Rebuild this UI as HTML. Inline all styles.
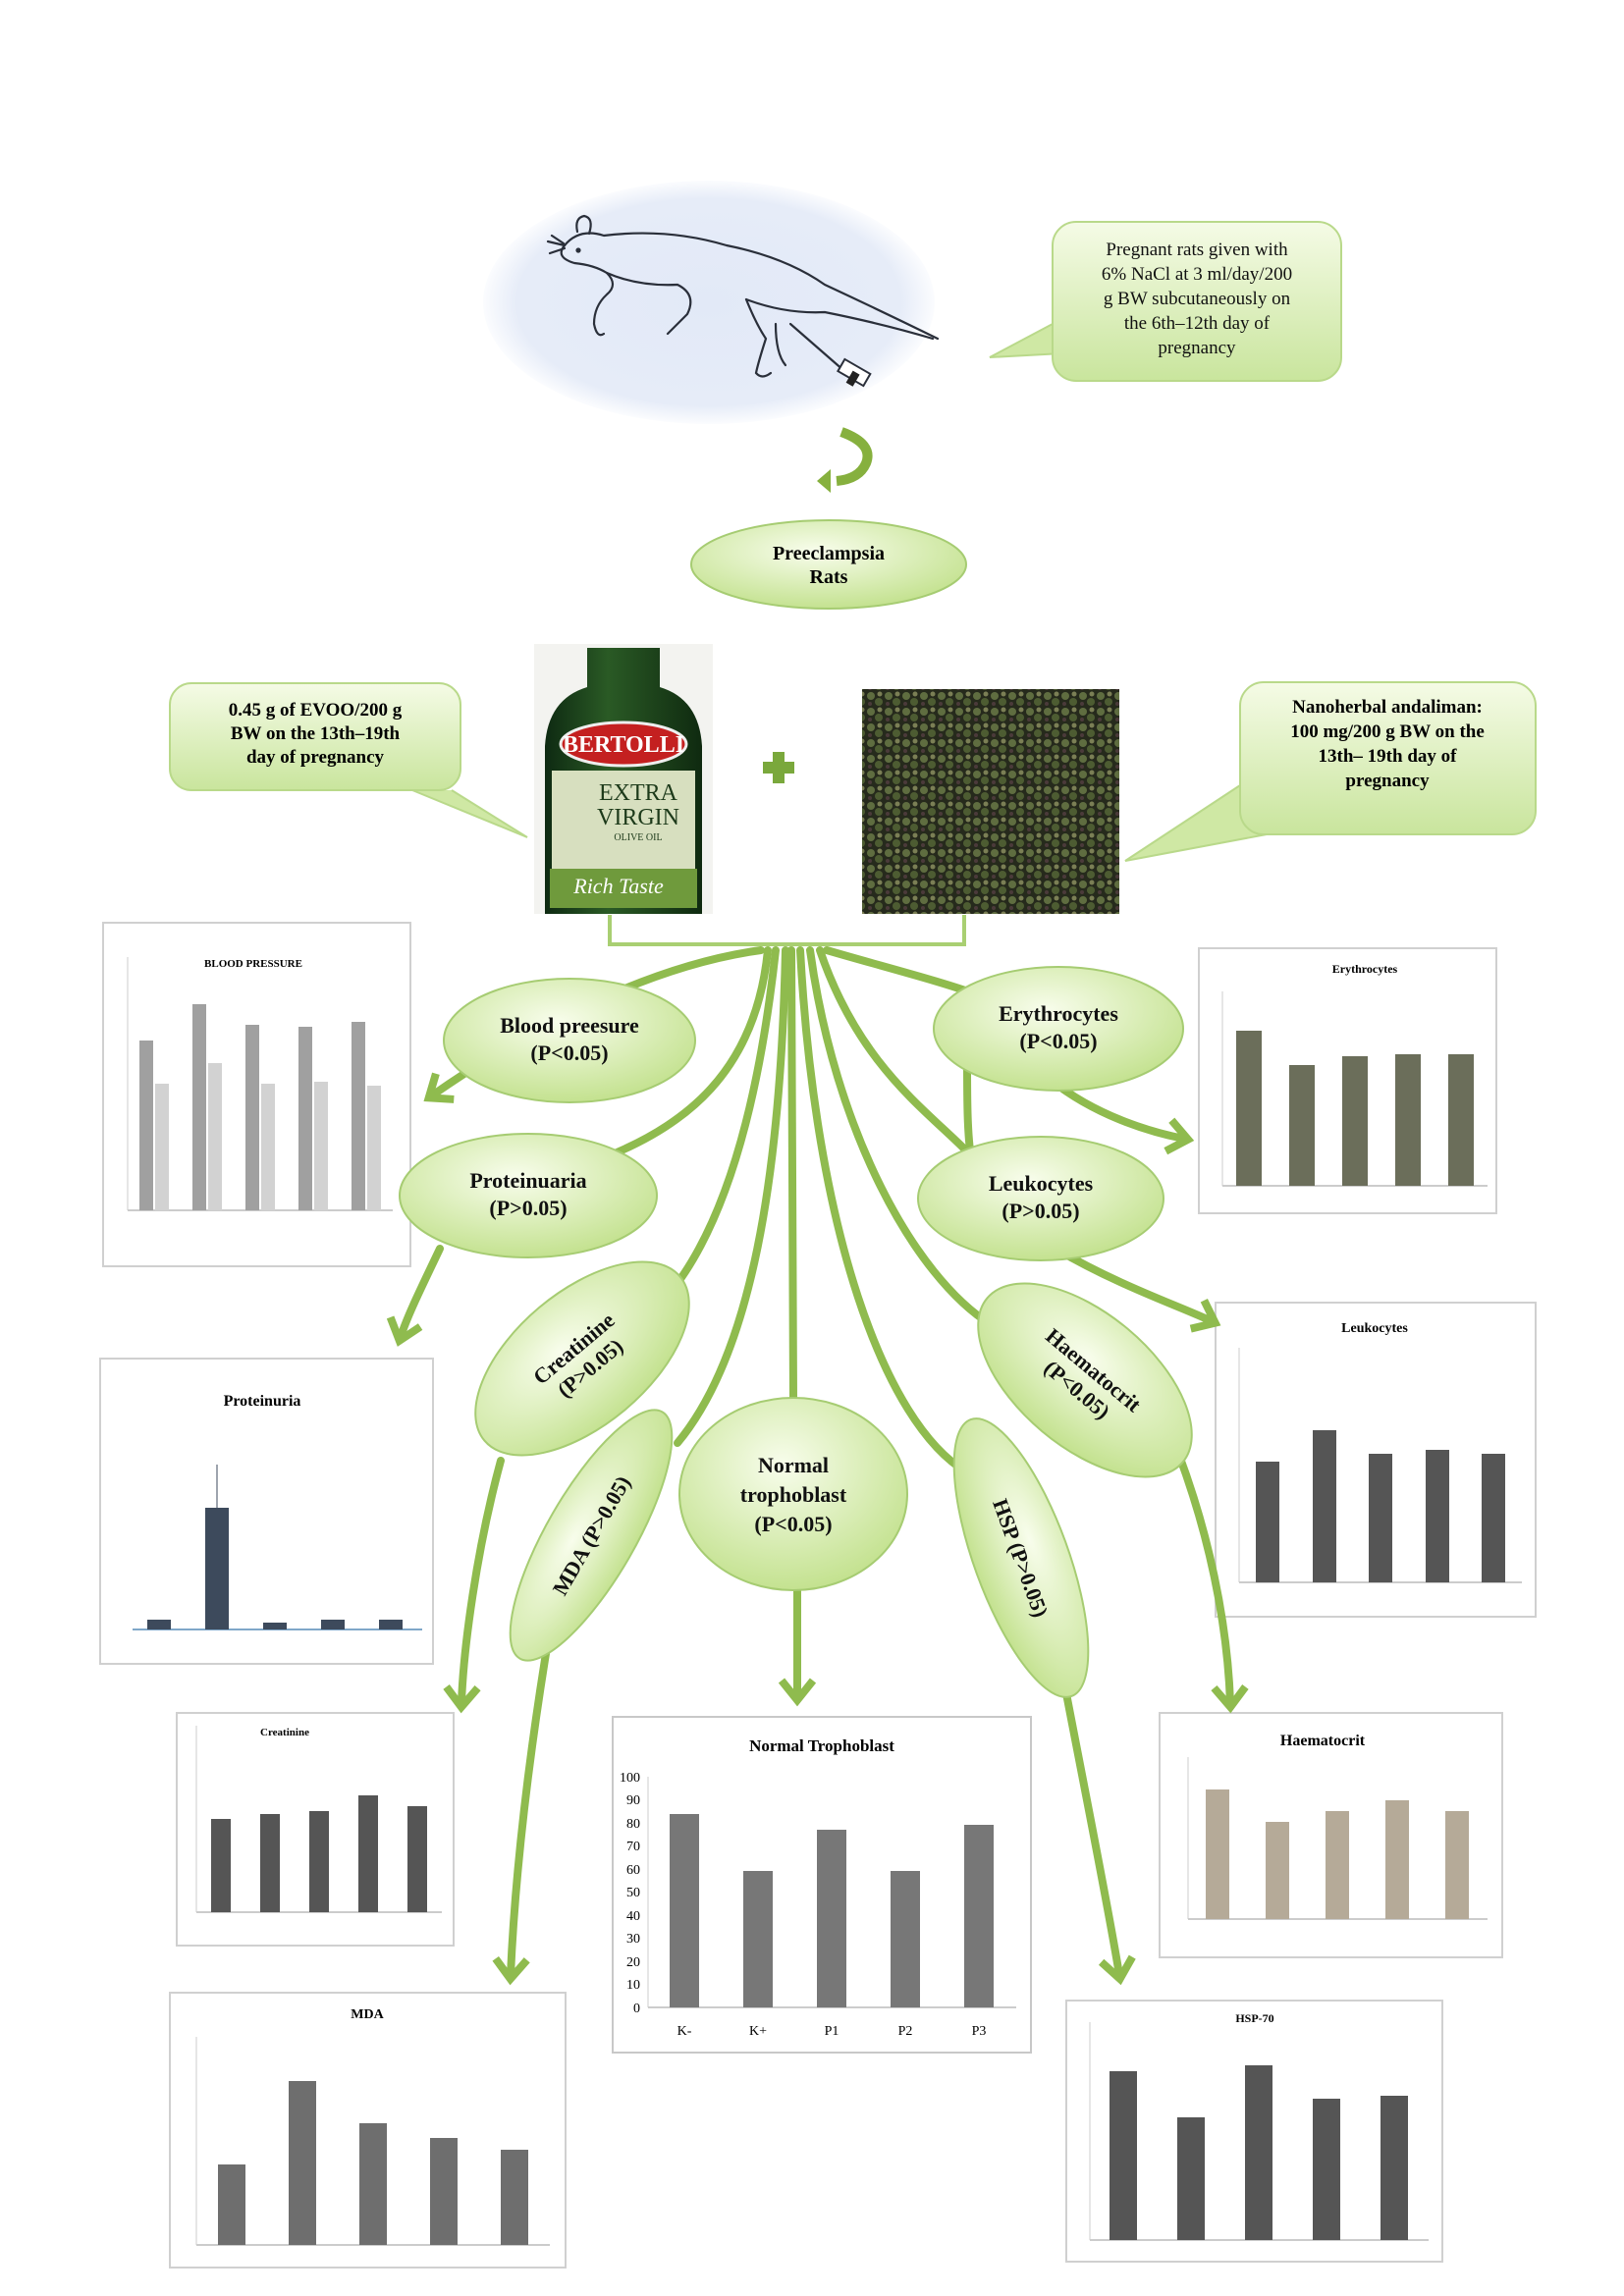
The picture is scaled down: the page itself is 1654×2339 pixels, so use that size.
<!DOCTYPE html>
<html><head><meta charset="utf-8"><style>
html,body{margin:0;padding:0;background:#fff}
svg{display:block}
text{font-family:"Liberation Serif",serif}
</style></head><body>
<svg width="1654" height="2339" viewBox="0 0 1654 2339" xmlns="http://www.w3.org/2000/svg">
<defs>
<radialGradient id="blue" cx="50%" cy="50%" r="50%"><stop offset="0" stop-color="#e2e9f7"/><stop offset="0.85" stop-color="#e6ecf8"/><stop offset="1" stop-color="#fbfcfe"/></radialGradient>
<radialGradient id="gr" cx="45%" cy="35%" r="65%"><stop offset="0" stop-color="#f8fdec"/><stop offset="1" stop-color="#c4e290"/></radialGradient>
<linearGradient id="box" x1="0" y1="0" x2="0" y2="1"><stop offset="0" stop-color="#f5fbe6"/><stop offset="1" stop-color="#c9e59d"/></linearGradient>
<linearGradient id="bottle" x1="0" y1="0" x2="1" y2="0"><stop offset="0" stop-color="#0e2a12"/><stop offset="0.4" stop-color="#2a5a25"/><stop offset="1" stop-color="#0f2a10"/></linearGradient>
<pattern id="herb" width="18" height="16" patternUnits="userSpaceOnUse"><rect width="18" height="16" fill="#262a1c"/><circle cx="5" cy="5" r="4" fill="#5f6d40"/><circle cx="13" cy="11" r="4" fill="#4d5c32"/><circle cx="14" cy="3" r="2.5" fill="#7b7f55"/><circle cx="4" cy="13" r="2" fill="#4b3a3a"/></pattern>
<marker id="ah" viewBox="0 0 20 20" refX="10" refY="10" markerWidth="5" markerHeight="5" orient="auto" markerUnits="strokeWidth"><polyline points="2,2 12,10 2,18" fill="none" stroke="#8fbb4e" stroke-width="4"/></marker>
</defs>

<!-- mouse -->
<ellipse cx="722" cy="308" rx="230" ry="124" fill="url(#blue)"/>
<g fill="none" stroke="#2a2f3a" stroke-width="2.2" stroke-linecap="round">
<path d="M575 250 Q590 232 615 240 Q680 232 740 250 Q800 262 840 290 Q900 318 955 345"/>
<path d="M575 250 Q565 262 585 268 Q605 270 618 278"/>
<path d="M618 278 Q630 290 618 300 Q605 312 605 330 Q608 345 615 340"/>
<path d="M618 278 Q650 292 690 290 Q710 300 700 320 Q690 330 680 340"/>
<path d="M760 305 Q800 320 840 318 Q900 330 950 345"/>
<path d="M760 305 Q770 330 780 345 Q772 370 770 380 Q776 387 785 380"/>
<path d="M790 330 Q790 360 800 372"/>
<path d="M805 330 L860 378"/>
<path d="M588 236 Q585 222 595 220 Q605 222 600 238"/>
<path d="M575 250 L558 246 M575 253 L560 258 M574 248 L562 240"/>
<circle cx="589" cy="255" r="1.5" fill="#2a2f3a"/>
</g>
<rect x="855" y="372" width="30" height="14" transform="rotate(30 869 379)" fill="#fff" stroke="#2a2f3a" stroke-width="2"/>
<rect x="868" y="378" width="8" height="14" transform="rotate(30 869 379)" fill="#222"/>
<!-- top right callout -->
<path d="M1072 330 L1008 364 L1082 360" fill="#cfe8a4" stroke="#b9d98a" stroke-width="2"/>
<rect x="1072" y="226" width="294" height="162" rx="24" fill="url(#box)" stroke="#b9d98a" stroke-width="2"/>
<g font-size="19" text-anchor="middle" fill="#111"><text x="1219" y="260">Pregnant rats given with</text><text x="1219" y="285">6% NaCl at 3 ml/day/200</text><text x="1219" y="310">g BW subcutaneously on</text><text x="1219" y="335">the 6th–12th day of</text><text x="1219" y="360">pregnancy</text></g>
<!-- hook arrow -->
<path d="M857 440 Q890 452 882 472 Q875 488 852 490" fill="none" stroke="#86b03e" stroke-width="10"/>
<polygon points="846,478 846,502 832,490" fill="#86b03e"/>
<!-- preeclampsia -->
<ellipse cx="844" cy="575" rx="140" ry="45" fill="url(#gr)" stroke="#a6cc72" stroke-width="2"/>
<g font-size="20" font-weight="bold" text-anchor="middle"><text x="844" y="570">Preeclampsia</text><text x="844" y="594">Rats</text></g>
<!-- bottle -->
<rect x="544" y="656" width="182" height="275" fill="#f3f3f0"/>
<path d="M598 660 L672 660 L672 700 Q712 712 715 760 L715 931 L555 931 L555 760 Q558 712 598 700Z" fill="url(#bottle)"/>
<ellipse cx="635" cy="758" rx="64" ry="22" fill="#c42020" stroke="#eee" stroke-width="3"/>
<text x="635" y="766" font-size="24" font-weight="bold" fill="#fff" text-anchor="middle">BERTOLLI</text>
<rect x="562" y="785" width="146" height="100" fill="#d7dfbf"/>
<text x="650" y="815" font-size="24" fill="#1d3a1a" text-anchor="middle">EXTRA</text>
<text x="650" y="840" font-size="24" fill="#1d3a1a" text-anchor="middle">VIRGIN</text>
<text x="650" y="856" font-size="10" fill="#1d3a1a" text-anchor="middle">OLIVE OIL</text>
<rect x="560" y="885" width="150" height="40" fill="#6f9a3c"/>
<text x="630" y="910" font-size="22" font-style="italic" fill="#fff" text-anchor="middle">Rich Taste</text>
<!-- plus -->
<path d="M793 766 L793 798 M777 782 L809 782" stroke="#7aa83c" stroke-width="12"/>
<!-- herb -->
<rect x="878" y="702" width="262" height="229" fill="url(#herb)"/>
<!-- left callout -->
<path d="M420 805 L537 853 L460 805" fill="#cfe8a4" stroke="#b9d98a" stroke-width="2"/>
<rect x="173" y="696" width="296" height="109" rx="22" fill="url(#box)" stroke="#b9d98a" stroke-width="2"/>
<g font-size="19" font-weight="bold" text-anchor="middle"><text x="321" y="729">0.45 g of EVOO/200 g</text><text x="321" y="753">BW on the 13th–19th</text><text x="321" y="777">day of pregnancy</text></g>
<!-- right callout -->
<path d="M1263 800 L1146 877 L1290 850" fill="#cfe8a4" stroke="#b9d98a" stroke-width="2"/>
<rect x="1263" y="695" width="301" height="155" rx="24" fill="url(#box)" stroke="#b9d98a" stroke-width="2"/>
<g font-size="19" font-weight="bold" text-anchor="middle"><text x="1413" y="726">Nanoherbal andaliman:</text><text x="1413" y="751">100 mg/200 g BW on the</text><text x="1413" y="776">13th– 19th day of</text><text x="1413" y="801">pregnancy</text></g>
<!-- bracket -->
<path d="M621 932 L621 962 L982 962 L982 932" fill="none" stroke="#a9cf72" stroke-width="4"/>

<!-- charts -->
<g>
<!-- BP -->
<rect x="105" y="940" width="313" height="350" fill="#fff" stroke="#d0d0d0" stroke-width="2"/>
<text x="258" y="985" font-size="11" font-weight="bold" text-anchor="middle">BLOOD PRESSURE</text>
<line x1="130" y1="1233" x2="400" y2="1233" stroke="#999"/><line x1="130" y1="975" x2="130" y2="1233" stroke="#ccc"/>
<g fill="#a0a0a0"><rect x="142" y="1060" width="14" height="173"/><rect x="196" y="1023" width="14" height="210"/><rect x="250" y="1044" width="14" height="189"/><rect x="304" y="1046" width="14" height="187"/><rect x="358" y="1041" width="14" height="192"/></g>
<g fill="#d2d2d2"><rect x="158" y="1104" width="14" height="129"/><rect x="212" y="1083" width="14" height="150"/><rect x="266" y="1104" width="14" height="129"/><rect x="320" y="1102" width="14" height="131"/><rect x="374" y="1106" width="14" height="127"/></g>
<!-- Erythrocytes -->
<rect x="1221" y="966" width="303" height="270" fill="#fff" stroke="#d0d0d0" stroke-width="2"/>
<text x="1390" y="991" font-size="12" font-weight="bold" text-anchor="middle">Erythrocytes</text>
<line x1="1245" y1="1208" x2="1515" y2="1208" stroke="#999"/><line x1="1245" y1="1010" x2="1245" y2="1208" stroke="#ccc"/>
<g fill="#6b6e5a"><rect x="1259" y="1050" width="26" height="158"/><rect x="1313" y="1085" width="26" height="123"/><rect x="1367" y="1076" width="26" height="132"/><rect x="1421" y="1074" width="26" height="134"/><rect x="1475" y="1074" width="26" height="134"/></g>
<!-- Proteinuria -->
<rect x="102" y="1384" width="339" height="311" fill="#fff" stroke="#d0d0d0" stroke-width="2"/>
<text x="267" y="1432" font-size="16" font-weight="bold" text-anchor="middle">Proteinuria</text>
<line x1="135" y1="1660" x2="430" y2="1660" stroke="#7fa7c9" stroke-width="2"/>
<g fill="#3d4a5c"><rect x="150" y="1650" width="24" height="10"/><rect x="209" y="1536" width="24" height="124"/><rect x="268" y="1653" width="24" height="7"/><rect x="327" y="1650" width="24" height="10"/><rect x="386" y="1650" width="24" height="10"/></g>
<line x1="221" y1="1536" x2="221" y2="1492" stroke="#3d4a5c"/>
<!-- Leukocytes -->
<rect x="1238" y="1327" width="326" height="320" fill="#fff" stroke="#d0d0d0" stroke-width="2"/>
<text x="1400" y="1357" font-size="14" font-weight="bold" text-anchor="middle">Leukocytes</text>
<line x1="1262" y1="1612" x2="1550" y2="1612" stroke="#999"/><line x1="1262" y1="1373" x2="1262" y2="1612" stroke="#ccc"/>
<g fill="#555"><rect x="1279" y="1489" width="24" height="123"/><rect x="1337" y="1457" width="24" height="155"/><rect x="1394" y="1481" width="24" height="131"/><rect x="1452" y="1477" width="24" height="135"/><rect x="1509" y="1481" width="24" height="131"/></g>
<!-- Creatinine -->
<rect x="180" y="1745" width="282" height="237" fill="#fff" stroke="#d0d0d0" stroke-width="2"/>
<text x="290" y="1768" font-size="11" font-weight="bold" text-anchor="middle">Creatinine</text>
<line x1="200" y1="1948" x2="450" y2="1948" stroke="#999"/><line x1="200" y1="1758" x2="200" y2="1948" stroke="#ccc"/>
<g fill="#555"><rect x="215" y="1853" width="20" height="95"/><rect x="265" y="1848" width="20" height="100"/><rect x="315" y="1845" width="20" height="103"/><rect x="365" y="1829" width="20" height="119"/><rect x="415" y="1840" width="20" height="108"/></g>
<!-- Normal trophoblast -->
<rect x="624" y="1749" width="426" height="342" fill="#fff" stroke="#c8c8c8" stroke-width="2"/>
<text x="837" y="1784" font-size="17" font-weight="bold" text-anchor="middle">Normal Trophoblast</text>
<line x1="660" y1="2045" x2="1035" y2="2045" stroke="#999"/><line x1="660" y1="1810" x2="660" y2="2045" stroke="#ccc"/>
<g font-size="14" text-anchor="end"><text x="652" y="2050">0</text><text x="652" y="2026">10</text><text x="652" y="2003">20</text><text x="652" y="1979">30</text><text x="652" y="1956">40</text><text x="652" y="1932">50</text><text x="652" y="1909">60</text><text x="652" y="1885">70</text><text x="652" y="1862">80</text><text x="652" y="1838">90</text><text x="652" y="1815">100</text></g>
<g fill="#777"><rect x="682" y="1848" width="30" height="197"/><rect x="757" y="1906" width="30" height="139"/><rect x="832" y="1864" width="30" height="181"/><rect x="907" y="1906" width="30" height="139"/><rect x="982" y="1859" width="30" height="186"/></g>
<g font-size="14" text-anchor="middle"><text x="697" y="2073">K-</text><text x="772" y="2073">K+</text><text x="847" y="2073">P1</text><text x="922" y="2073">P2</text><text x="997" y="2073">P3</text></g>
<!-- Haematocrit -->
<rect x="1181" y="1745" width="349" height="249" fill="#fff" stroke="#d0d0d0" stroke-width="2"/>
<text x="1347" y="1778" font-size="16" font-weight="bold" text-anchor="middle">Haematocrit</text>
<line x1="1210" y1="1955" x2="1515" y2="1955" stroke="#999"/><line x1="1210" y1="1790" x2="1210" y2="1955" stroke="#ccc"/>
<g fill="#b5aa98"><rect x="1228" y="1823" width="24" height="132"/><rect x="1289" y="1856" width="24" height="99"/><rect x="1350" y="1845" width="24" height="110"/><rect x="1411" y="1834" width="24" height="121"/><rect x="1472" y="1845" width="24" height="110"/></g>
<!-- MDA -->
<rect x="173" y="2030" width="403" height="280" fill="#fff" stroke="#d0d0d0" stroke-width="2"/>
<text x="374" y="2056" font-size="14" font-weight="bold" text-anchor="middle">MDA</text>
<line x1="200" y1="2287" x2="560" y2="2287" stroke="#999"/><line x1="200" y1="2075" x2="200" y2="2287" stroke="#ccc"/>
<g fill="#6e6e6e"><rect x="222" y="2205" width="28" height="82"/><rect x="294" y="2120" width="28" height="167"/><rect x="366" y="2163" width="28" height="124"/><rect x="438" y="2178" width="28" height="109"/><rect x="510" y="2190" width="28" height="97"/></g>
<!-- HSP-70 -->
<rect x="1086" y="2038" width="383" height="266" fill="#fff" stroke="#d0d0d0" stroke-width="2"/>
<text x="1278" y="2060" font-size="12" font-weight="bold" text-anchor="middle">HSP-70</text>
<line x1="1110" y1="2282" x2="1455" y2="2282" stroke="#999"/><line x1="1110" y1="2060" x2="1110" y2="2282" stroke="#ccc"/>
<g fill="#555"><rect x="1130" y="2110" width="28" height="172"/><rect x="1199" y="2157" width="28" height="125"/><rect x="1268" y="2104" width="28" height="178"/><rect x="1337" y="2138" width="28" height="144"/><rect x="1406" y="2135" width="28" height="147"/></g>
</g>

<!-- connectors -->
<g fill="none" stroke="#8fbb4e" stroke-width="8" stroke-linecap="round">
<path d="M775 968 C650 985 520 1060 440 1116" marker-end="url(#ah)"/>
<path d="M782 968 C770 1090 700 1150 600 1185"/>
<path d="M448 1272 C430 1310 415 1340 408 1362" marker-end="url(#ah)"/>
<path d="M790 968 C770 1150 730 1260 680 1320"/>
<path d="M510 1488 C485 1580 472 1680 470 1735" marker-end="url(#ah)"/>
<path d="M800 968 C795 1200 765 1380 690 1470"/>
<path d="M560 1660 C540 1780 525 1900 520 2012" marker-end="url(#ah)"/>
<path d="M806 968 L808 1425"/>
<path d="M812 1620 L812 1728" marker-end="url(#ah)"/>
<path d="M815 968 C830 1250 900 1450 985 1500"/>
<path d="M1085 1720 C1110 1850 1130 1950 1140 2012" marker-end="url(#ah)"/>
<path d="M825 968 C850 1150 930 1300 1010 1350"/>
<path d="M1200 1480 C1230 1560 1250 1650 1253 1735" marker-end="url(#ah)"/>
<path d="M835 968 C880 1100 960 1140 1000 1190"/>
<path d="M1075 1272 C1140 1310 1200 1330 1234 1346" marker-end="url(#ah)"/>
<path d="M842 968 C900 985 960 1000 1000 1015"/>
<path d="M985 1080 C985 1120 985 1160 990 1185"/>
<path d="M1070 1100 C1120 1140 1180 1155 1206 1160" marker-end="url(#ah)"/>
</g>

<!-- ellipses -->
<g fill="url(#gr)" stroke="#a6cc72" stroke-width="2">
<ellipse cx="580" cy="1060" rx="128" ry="63"/>
<ellipse cx="538" cy="1218" rx="131" ry="63"/>
<ellipse cx="1078" cy="1048" rx="127" ry="63"/>
<ellipse cx="1060" cy="1221" rx="125" ry="63"/>
<ellipse cx="593" cy="1384" rx="130" ry="68" transform="rotate(-40 593 1384)"/>
<ellipse cx="808" cy="1522" rx="116" ry="98"/>
<ellipse cx="602" cy="1564" rx="145" ry="45" transform="rotate(-60 602 1564)"/>
<ellipse cx="1105" cy="1406" rx="130" ry="68" transform="rotate(40 1105 1406)"/>
<ellipse cx="1040" cy="1587" rx="150" ry="48" transform="rotate(70 1040 1587)"/>
</g>
<g font-size="22" font-weight="bold" text-anchor="middle" fill="#111">
<text x="580" y="1052">Blood preesure</text><text x="580" y="1080">(P&lt;0.05)</text>
<text x="538" y="1210">Proteinuaria</text><text x="538" y="1238">(P&gt;0.05)</text>
<text x="1078" y="1040">Erythrocytes</text><text x="1078" y="1068">(P&lt;0.05)</text>
<text x="1060" y="1213">Leukocytes</text><text x="1060" y="1241">(P&gt;0.05)</text>
<g transform="rotate(-40 593 1384)"><text x="593" y="1378">Creatinine</text><text x="593" y="1404">(P&gt;0.05)</text></g>
<text x="808" y="1500">Normal</text><text x="808" y="1530">trophoblast</text><text x="808" y="1560">(P&lt;0.05)</text>
<g transform="rotate(-60 602 1564)"><text x="602" y="1572">MDA (P&gt;0.05)</text></g>
<g transform="rotate(40 1105 1406)"><text x="1105" y="1400">Haematocrit</text><text x="1105" y="1426">(P&lt;0.05)</text></g>
<g transform="rotate(70 1040 1587)"><text x="1040" y="1595">HSP  (P&gt;0.05)</text></g>
</g>
</svg>
</body></html>
